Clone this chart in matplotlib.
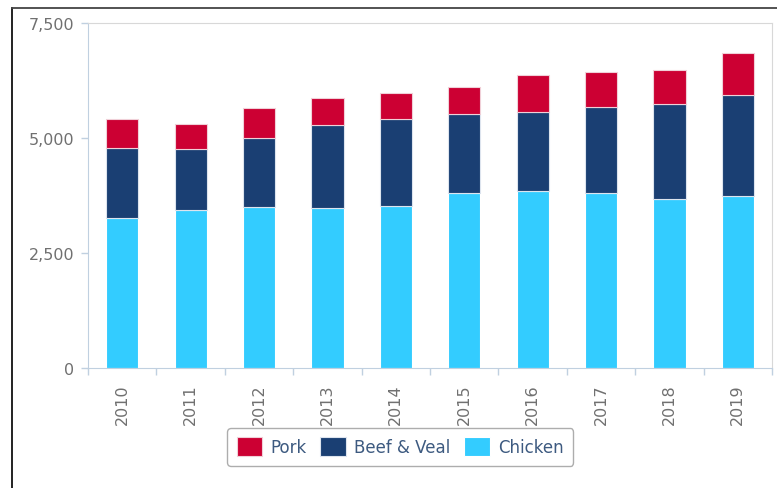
import matplotlib.pyplot as plt
from matplotlib.lines import Line2D
from matplotlib.ticker import FuncFormatter, MultipleLocator
import numpy as np

years = ["2010", "2011", "2012", "2013", "2014", "2015", "2016", "2017", "2018", "2019"]
chicken = [3254, 3428, 3493, 3472, 3529, 3805, 3848, 3805, 3674, 3739]
beef_veal = [1535, 1326, 1507, 1811, 1891, 1724, 1711, 1862, 2058, 2203]
pork = [624, 550, 659, 587, 552, 587, 804, 768, 739, 913]

c_pork = "#cc0033"
c_beef = "#1a3f73"
c_chicken = "#33ccff"
axis_col = "#c0d0e0"
text_col = "#707070"

plt.rcParams["font.family"] = "DejaVu Sans"

fig = plt.figure(figsize=(7.77, 4.89), dpi=100)
ax = fig.add_axes([0.1133, 0.2454, 0.8803, 0.7055])

x = np.arange(len(years))
w = 0.47
b1 = np.array(chicken)
b2 = b1 + np.array(beef_veal)
ax.bar(x, chicken, w, color=c_chicken, edgecolor="white", linewidth=0.8, label="Chicken")
ax.bar(x, beef_veal, w, bottom=b1, color=c_beef, edgecolor="#dde4ee", linewidth=0.8, label="Beef & Veal")
ax.bar(x, pork, w, bottom=b2, color=c_pork, edgecolor="#f0d0d8", linewidth=0.8, label="Pork")

ax.set_xlim(-0.5, 9.5)
ax.set_ylim(0, 7500)
ax.yaxis.set_major_locator(MultipleLocator(2500))
ax.yaxis.set_major_formatter(FuncFormatter(lambda v, p: f"{int(v):,}"))

ax.set_xticks(x)
ax.set_xticklabels(years, rotation=90)
ax.set_xticks(np.arange(-0.5, 10, 1), minor=True)
ax.tick_params(axis="x", which="major", length=0, pad=11, labelsize=11.5, labelcolor=text_col)
ax.tick_params(axis="x", which="minor", length=5, width=1, color=axis_col, direction="out")
ax.tick_params(axis="y", length=5, width=1, color=axis_col, pad=5, labelsize=11.5, labelcolor=text_col)

for s in ["left", "bottom"]:
    ax.spines[s].set_color(axis_col)
for s in ["top", "right"]:
    ax.spines[s].set_color("#d8d8d8")

# outer frame lines of the screenshot
fig.add_artist(Line2D([11.5 / 777, 11.5 / 777], [0, 1 - 8.5 / 489], color="#111111", lw=1.3))
fig.add_artist(Line2D([11.5 / 777, 1], [1 - 8.5 / 489, 1 - 8.5 / 489], color="#444444", lw=1.3))

handles, labels = ax.get_legend_handles_labels()
leg = fig.legend(handles[::-1], labels[::-1], loc="center", bbox_to_anchor=(0.515, 0.084),
                 ncol=3, fontsize=12, frameon=True, fancybox=True,
                 handlelength=1.55, handleheight=1.35, handletextpad=0.5, columnspacing=0.8,
                 borderpad=0.55, edgecolor="#999999")
leg.get_frame().set_linewidth(1.0)
for t in leg.get_texts():
    t.set_color("#3d5a80")

fig.savefig("out.png", dpi=100)
